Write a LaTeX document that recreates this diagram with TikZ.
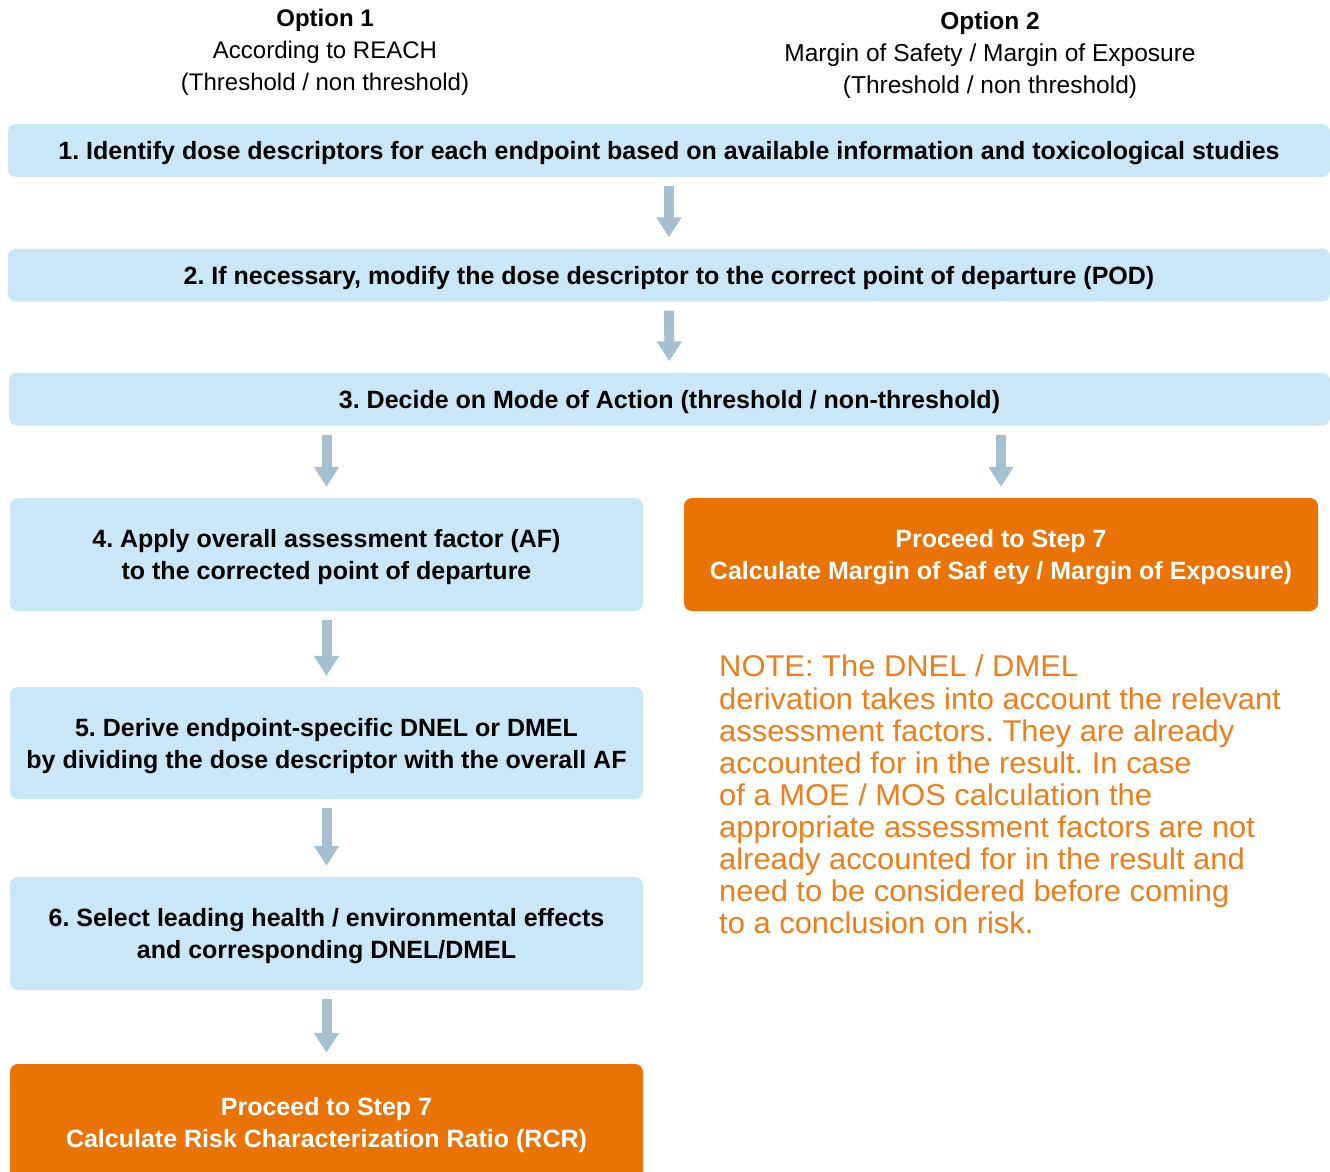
\documentclass[tikz,border=0pt]{standalone}
\usepackage{fontspec}
\setmainfont{Liberation Sans}
\newfontfamily\notefont[FakeStretch=1.03]{Liberation Sans}
\usetikzlibrary{arrows.meta}
\definecolor{boxblue}{HTML}{C9E7F7}
\definecolor{boxorange}{HTML}{EA7305}
\definecolor{noteorange}{HTML}{EE7D1A}
\definecolor{arrowgray}{HTML}{A7C0CF}
\frenchspacing
\tikzset{
  stepbox/.style={fill=boxblue,rounded corners=8pt,align=center,inner sep=0pt,
    text depth=0pt,font=\bfseries\fontsize{25}{32}\selectfont},
  proceedbox/.style={fill=boxorange,rounded corners=8pt,align=center,inner sep=0pt,
    text depth=0pt,text=white,font=\bfseries\fontsize{25}{32}\selectfont},
  flowarrow/.style={draw=arrowgray,line width=10pt,
    -{Triangle[width=24pt,length=20pt]},shorten <=9pt,shorten >=11pt}
}
\begin{document}
\begin{tikzpicture}[x=1pt,y=-1pt]
  \useasboundingbox (0,0) rectangle (1330,1172);
  % headers
  \node[align=center,font=\fontsize{24}{32}\selectfont] (opt1) at (325,52)
    {\textbf{Option 1}\\According to REACH\\(Threshold / non threshold)};
  \node[align=center,font=\fontsize{24.5}{32}\selectfont] (opt2) at (990,55)
    {\textbf{Option 2}\\Margin of Safety / Margin of Exposure\\(Threshold / non threshold)};
  % full width steps
  \node[stepbox,minimum width=1322pt,minimum height=53pt] (s1) at (669,150.5)
    {1. Identify dose descriptors for each endpoint based on available information and toxicological studies};
  \node[stepbox,minimum width=1322pt,minimum height=53pt] (s2) at (669,275)
    {2. If necessary, modify the dose descriptor to the correct point of departure (POD)};
  \node[stepbox,minimum width=1321pt,minimum height=53pt] (s3) at (669.5,399)
    {3. Decide on Mode of Action (threshold / non-threshold)};
  % option 1 column
  \node[stepbox,minimum width=633pt,minimum height=113pt] (s4) at (326.5,554.5)
    {4. Apply overall assessment factor (AF)\\to the corrected point of departure};
  \node[stepbox,minimum width=633pt,minimum height=112pt] (s5) at (326.5,743)
    {5. Derive endpoint-specific DNEL or DMEL\\by dividing the dose descriptor with the overall AF};
  \node[stepbox,minimum width=633pt,minimum height=113pt] (s6) at (326.5,933.5)
    {6. Select leading health / environmental effects\\and corresponding DNEL/DMEL};
  \node[proceedbox,minimum width=633pt,minimum height=116pt] (rcr) at (326.5,1122)
    {Proceed to Step 7\\Calculate Risk Characterization Ratio (RCR)};
  % option 2 column
  \node[proceedbox,minimum width=634pt,minimum height=113pt] (mos) at (1001,554.5)
    {Proceed to Step 7\\Calculate Margin of Saf ety / Margin of Exposure)};
  \node[anchor=north west,align=left,inner sep=0pt,text=noteorange,
    font=\notefont\fontsize{30}{32.1}\selectfont] (note) at (719,655)
    {NOTE: The DNEL / DMEL\\derivation takes into account the relevant\\assessment factors. They are already\\accounted for in the result. In case\\of a MOE / MOS calculation the\\appropriate assessment factors are not\\already accounted for in the result and\\need to be considered before coming\\to a conclusion on risk.};
  % arrows
  \draw[flowarrow] (s1) -- (s2);
  \draw[flowarrow] (s2) -- (s3);
  \draw[flowarrow] (s3.south -| s4.north) -- (s4.north);
  \draw[flowarrow] (s3.south -| mos.north) -- (mos.north);
  \draw[flowarrow] (s4) -- (s5);
  \draw[flowarrow] (s5) -- (s6);
  \draw[flowarrow] (s6) -- (rcr.north);
\end{tikzpicture}
\end{document}
